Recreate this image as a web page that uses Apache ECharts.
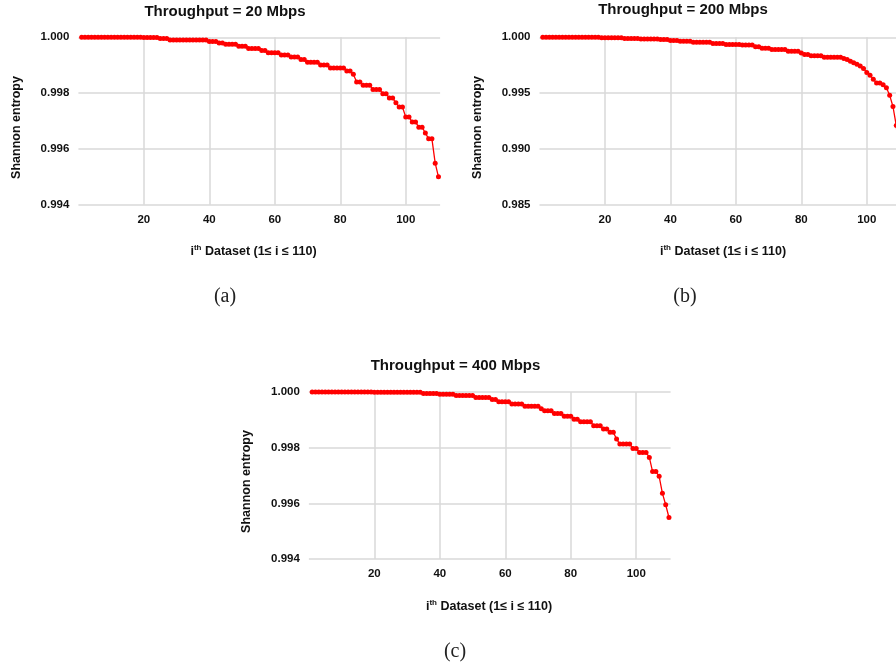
<!DOCTYPE html>
<html>
<head>
<meta charset="utf-8">
<script src="https://cdn.jsdelivr.net/npm/echarts@6/dist/echarts.min.js"></script>
<style>html,body{margin:0;padding:0;background:#fff}#c{width:896px;height:671px}</style>
</head>
<body>
<div id="c"></div>
<script>
// ---- data ----
const xTickLabels = [20, 40, 60, 80, 100];
const titles = ['Throughput = 20 Mbps', 'Throughput = 200 Mbps', 'Throughput = 400 Mbps'];
const captions = ['(a)', '(b)', '(c)'];
const yNameText = 'Shannon entropy';

const entropy20 = [
  1.0, 1.0, 1.0, 1.0, 1.0, 1.0, 1.0, 1.0, 1.0, 1.0,
  1.0, 1.0, 1.0, 1.0, 1.0, 1.0, 1.0, 1.0, 1.0, 0.99999,
  0.99999, 0.99999, 0.99999, 0.99999, 0.99996, 0.99996, 0.99996, 0.9999, 0.9999, 0.9999,
  0.9999, 0.9999, 0.9999, 0.9999, 0.9999, 0.9999, 0.9999, 0.9999, 0.9999, 0.99985,
  0.99985, 0.99985, 0.9998, 0.9998, 0.99975, 0.99975, 0.99975, 0.99975, 0.99968, 0.99968,
  0.99968, 0.9996, 0.9996, 0.9996, 0.9996, 0.99953, 0.99953, 0.99945, 0.99945, 0.99945,
  0.99945, 0.99937, 0.99937, 0.99937, 0.99929, 0.99929, 0.99929, 0.9992, 0.9992, 0.99911,
  0.99911, 0.99911, 0.99911, 0.99901, 0.99901, 0.99901, 0.9989, 0.9989, 0.9989, 0.9989,
  0.9989, 0.99879, 0.99879, 0.99868, 0.9984, 0.9984, 0.99828, 0.99828, 0.99828, 0.99813,
  0.99813, 0.99813, 0.99798, 0.99798, 0.99782, 0.99782, 0.99765, 0.9975, 0.9975, 0.99714,
  0.99714, 0.99696, 0.99696, 0.99678, 0.99678, 0.99657, 0.99636, 0.99636, 0.99549, 0.995
];
const entropy200 = [
  1.0, 1.0, 1.0, 1.0, 1.0, 1.0, 1.0, 1.0, 1.0, 1.0,
  1.0, 1.0, 1.0, 1.0, 1.0, 1.0, 1.0, 1.0, 0.99995, 0.99995,
  0.99995, 0.99995, 0.99995, 0.99995, 0.99995, 0.9999, 0.9999, 0.9999, 0.9999, 0.9999,
  0.99985, 0.99985, 0.99985, 0.99985, 0.99985, 0.99985, 0.9998, 0.9998, 0.9998, 0.99972,
  0.99972, 0.99972, 0.99965, 0.99965, 0.99965, 0.99965, 0.99955, 0.99955, 0.99955, 0.99955,
  0.99955, 0.99955, 0.99945, 0.99945, 0.99945, 0.99945, 0.99935, 0.99935, 0.99935, 0.99935,
  0.99935, 0.9993, 0.9993, 0.9993, 0.9993, 0.99915, 0.99915, 0.99903, 0.99903, 0.99903,
  0.9989, 0.9989, 0.9989, 0.9989, 0.9989, 0.99875, 0.99875, 0.99875, 0.99875, 0.9986,
  0.99845, 0.99845, 0.99835, 0.99835, 0.99835, 0.99835, 0.99822, 0.99822, 0.99822, 0.99822,
  0.99822, 0.99822, 0.9981, 0.998, 0.99785, 0.99772, 0.99758, 0.99742, 0.9972, 0.99685,
  0.9966, 0.99625, 0.9959, 0.9959, 0.99575, 0.99548, 0.9948, 0.9938, 0.9921, 0.989
];
const entropy400 = [
  1.0, 1.0, 1.0, 1.0, 1.0, 1.0, 1.0, 1.0, 1.0, 1.0,
  1.0, 1.0, 1.0, 1.0, 1.0, 1.0, 1.0, 1.0, 1.0, 0.99999,
  0.99999, 0.99999, 0.99999, 0.99999, 0.99999, 0.99999, 0.99999, 0.99999, 0.99999, 0.99999,
  0.99999, 0.99999, 0.99999, 0.99999, 0.99995, 0.99995, 0.99995, 0.99995, 0.99995, 0.99992,
  0.99992, 0.99992, 0.99992, 0.99992, 0.99987, 0.99987, 0.99987, 0.99987, 0.99987, 0.99987,
  0.9998, 0.9998, 0.9998, 0.9998, 0.9998, 0.99973, 0.99973, 0.99965, 0.99965, 0.99965,
  0.99965, 0.99957, 0.99957, 0.99957, 0.99957, 0.99949, 0.99949, 0.99949, 0.99949, 0.99949,
  0.9994, 0.99933, 0.99933, 0.99933, 0.99923, 0.99923, 0.99923, 0.99913, 0.99913, 0.99913,
  0.99902, 0.99902, 0.99893, 0.99893, 0.99893, 0.99893, 0.99879, 0.99879, 0.99879, 0.99867,
  0.99867, 0.99855, 0.99855, 0.99831, 0.99813, 0.99813, 0.99813, 0.99813, 0.99797, 0.99797,
  0.99783, 0.99783, 0.99783, 0.99765, 0.99714, 0.99714, 0.99697, 0.99636, 0.99595, 0.99549
];
const yRanges = [
  { min: 0.994, max: 1.0, interval: 0.002 },
  { min: 0.985, max: 1.0, interval: 0.005 },
  { min: 0.994, max: 1.0, interval: 0.002 }
];
// panel (b) is cut off by the right edge of the figure
const xMax = [110.5, 108.93, 110.5];

// ---- layout ----
const grids = [
  { left: 78.4, top: 37.3, width: 361.7, height: 167.4 },
  { left: 539.5, top: 37.3, width: 356.5, height: 167.4 },
  { left: 308.9, top: 392, width: 361.7, height: 167 }
];
const titlePos = [[225, 11.5], [683, 9.5], [455.5, 366]];
const yNamePos = [[16.7, 127.5], [478, 127.5], [247, 481.5]];
const xNamePos = [[253.5, 251], [723, 251], [489, 606]];
const capPos = [[225, 297], [685, 297], [455, 652]];

const seriesData = [entropy20, entropy200, entropy400];
const FONT = '"Liberation Sans", Arial, sans-serif';

const xAxes = [], yAxes = [], series = [], graphics = [];
for (let k = 0; k < 3; k++) {
  xAxes.push({
    type: 'value', gridIndex: k, min: 0, max: xMax[k], interval: 20,
    axisLine: { show: false },
    axisTick: { show: false },
    axisLabel: { color: '#111', fontWeight: 'bold', fontSize: 11.5, fontFamily: FONT, margin: 9,
      showMinLabel: false, showMaxLabel: false,
      formatter: v => (xTickLabels.indexOf(v) >= 0 ? String(v) : '') },
    splitLine: { show: true, showMinLine: false, showMaxLine: false, lineStyle: { color: '#d9d9d9', width: 1.5 } }
  });
  yAxes.push({
    type: 'value', gridIndex: k, min: yRanges[k].min, max: yRanges[k].max, interval: yRanges[k].interval,
    axisLine: { show: false }, axisTick: { show: false },
    axisLabel: { color: '#111', fontWeight: 'bold', fontSize: 11.5, fontFamily: FONT, margin: 9,
      formatter: v => v.toFixed(3) },
    splitLine: { show: true, lineStyle: { color: '#d9d9d9', width: 1.5 } }
  });
  series.push({
    type: 'line', xAxisIndex: k, yAxisIndex: k,
    data: seriesData[k].map((v, i) => [i + 1, v]),
    symbol: 'circle', symbolSize: 5, showSymbol: true,
    lineStyle: { color: '#ff0000', width: 1.3 },
    itemStyle: { color: '#ff0000' },
    clip: false
  });
  graphics.push({
    type: 'text', x: titlePos[k][0], y: titlePos[k][1],
    style: { text: titles[k], font: 'bold 15px ' + FONT, fill: '#111', textAlign: 'center', textVerticalAlign: 'middle' }
  });
  graphics.push({
    type: 'text', x: yNamePos[k][0], y: yNamePos[k][1], rotation: Math.PI / 2,
    style: { text: yNameText, font: 'bold 12.5px ' + FONT, fill: '#111', textAlign: 'center', textVerticalAlign: 'middle' }
  });
  graphics.push({
    type: 'text', x: xNamePos[k][0], y: xNamePos[k][1],
    style: {
      text: '{a|i}{s|th}{a| Dataset (1≤ i ≤ 110)}',
      textAlign: 'center', textVerticalAlign: 'middle',
      rich: {
        a: { font: 'bold 12.5px ' + FONT, fill: '#111', verticalAlign: 'bottom', lineHeight: 15 },
        s: { font: 'bold 8px ' + FONT, fill: '#111', verticalAlign: 'top', lineHeight: 15, padding: [0, 0, 2, 0] }
      }
    }
  });
  graphics.push({
    type: 'text', x: capPos[k][0], y: capPos[k][1],
    style: { text: captions[k], font: '20px "Liberation Serif", "DejaVu Serif", serif', fill: '#222', textAlign: 'center', textVerticalAlign: 'middle' }
  });
}

const chart = echarts.init(document.getElementById('c'), null, { renderer: 'canvas' });
chart.setOption({
  animation: false,
  backgroundColor: '#fff',
  grid: grids,
  xAxis: xAxes,
  yAxis: yAxes,
  series: series,
  graphic: graphics
});
</script>
</body>
</html>
